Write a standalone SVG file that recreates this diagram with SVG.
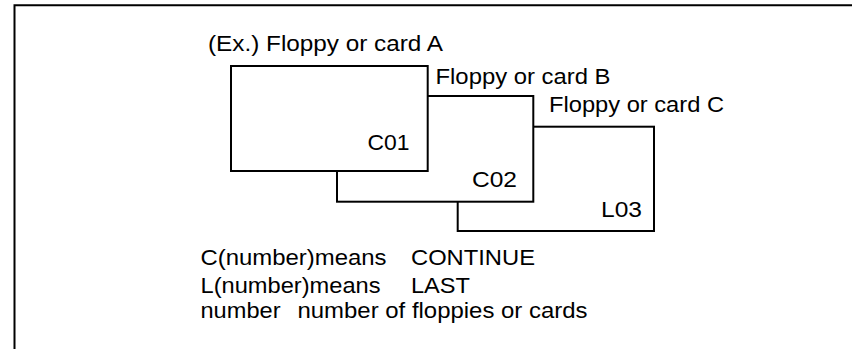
<svg xmlns="http://www.w3.org/2000/svg" width="852" height="349" viewBox="0 0 852 349">
<style>
.card{fill:#fff;stroke:#000;stroke-width:2}
.t{font-family:"Liberation Sans",Arial,sans-serif;font-size:22px;fill:#000}
.frame{fill:none;stroke:#000;stroke-width:2}
</style>
<rect width="852" height="349" fill="#fff"/>
<path class="frame" d="M14.5,349 V5.2 H852"/>
<g id="cardC">
<rect class="card" x="457.7" y="126.7" width="196.3" height="104.3"/>
<text class="t" x="549" y="111.7" textLength="175" lengthAdjust="spacingAndGlyphs">Floppy or card C</text>
<text class="t" x="601" y="216.7" textLength="41" lengthAdjust="spacingAndGlyphs">L03</text>
</g>
<g id="cardB">
<rect class="card" x="337" y="96" width="196.3" height="105.7"/>
<text class="t" x="435.5" y="84" textLength="175" lengthAdjust="spacingAndGlyphs">Floppy or card B</text>
<text class="t" x="472" y="187.3" textLength="45" lengthAdjust="spacingAndGlyphs">C02</text>
</g>
<g id="cardA">
<rect class="card" x="231" y="66" width="196.7" height="105"/>
<text class="t" x="208" y="50.5" textLength="235" lengthAdjust="spacingAndGlyphs">(Ex.) Floppy or card A</text>
<text class="t" x="367.5" y="149.5" textLength="42" lengthAdjust="spacingAndGlyphs">C01</text>
</g>
<g id="legend">
<text class="t" x="200.5" y="265" textLength="186" lengthAdjust="spacingAndGlyphs">C(number)means</text>
<text class="t" x="411" y="265" textLength="124" lengthAdjust="spacingAndGlyphs">CONTINUE</text>
<text class="t" x="200.5" y="292.7" textLength="180" lengthAdjust="spacingAndGlyphs">L(number)means</text>
<text class="t" x="411" y="292.7" textLength="59" lengthAdjust="spacingAndGlyphs">LAST</text>
<text class="t" x="200.5" y="318.3" textLength="80" lengthAdjust="spacingAndGlyphs">number</text>
<text class="t" x="297.5" y="318.3" textLength="290" lengthAdjust="spacingAndGlyphs">number of floppies or cards</text>
</g>
</svg>
